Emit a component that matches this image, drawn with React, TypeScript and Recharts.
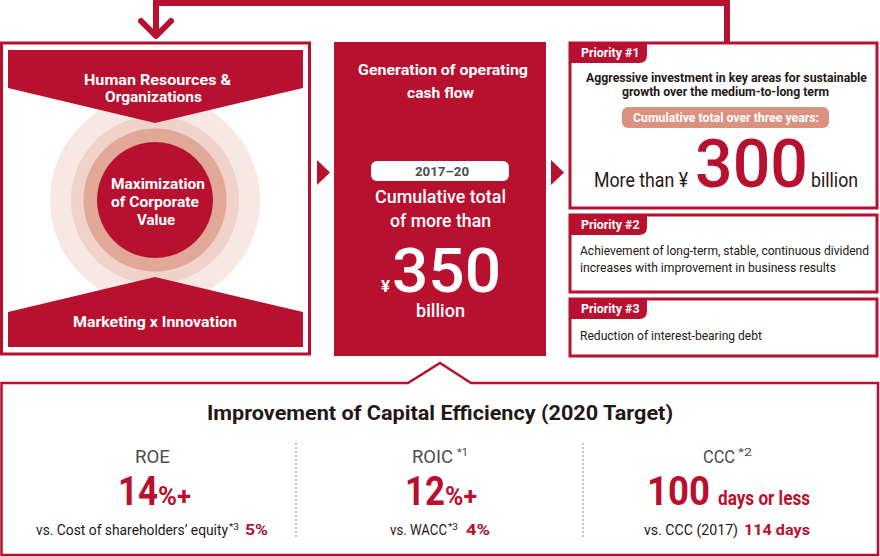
import { PieChart, Pie, Cell, Surface } from 'recharts';

const RED = '#b8102f';
const DARK = '#231815';
const GREY = '#4d4d4d';
const PINK = '#da9180';
const FONT = "Roboto, 'Liberation Sans', sans-serif";

// concentric rings behind "Maximization of Corporate Value"
const ringRadii = [105, 84, 71.5, 58];
const ringColors = ['#f7e8e4', '#efd3cb', '#e1a797', RED];

const leftTop = ['Human Resources &', 'Organizations'];
const leftCore = ['Maximization', 'of Corporate', 'Value'];
const leftBottom = 'Marketing x Innovation';

const cashTitle = ['Generation of operating', 'cash flow'];
const cashPeriod = '2017–20';
const cashLines = ['Cumulative total', 'of more than'];
const cashAmount = 350;

const priorityTitles = ['Priority #1', 'Priority #2', 'Priority #3'];
const priority1Lines = ['Aggressive investment in key areas for sustainable', 'growth over the medium-to-long term'];
const priority1Pill = 'Cumulative total over three years:';
const priority1Amount = 300;
const priority2Lines = ['Achievement of long-term, stable, continuous dividend', 'increases with improvement in business results'];
const priority3Lines = ['Reduction of interest-bearing debt'];

const efficiencyTitle = 'Improvement of Capital Efficiency (2020 Target)';
const kpiLabels = ['ROE', 'ROIC', 'CCC'];
const kpiLabelNotes = ['', '*1', '*2'];
const kpiTargets = [14, 12, 100];
const kpiUnits = ['%+', '%+', 'days or less'];
const kpiCompareText = ['vs. Cost of shareholders’ equity', 'vs. WACC', 'vs. CCC (2017)'];
const kpiCompareNotes = ['*3', '*3', ''];
const kpiCompareValues = ['5%', '4%', '114 days'];

// text squeezed to the width it has in the original (condensed face)
const T = ({ x, y, w, size, fill, weight = 400, children }: any) => (
  <text
    x={x}
    y={y}
    fontSize={size}
    fill={fill}
    fontWeight={weight}
    fontFamily={FONT}
    textLength={w}
    lengthAdjust="spacingAndGlyphs"
  >
    {children}
  </text>
);

const PriorityBox = ({ y, h, title }: any) => (
  <g>
    <rect x={570} y={y} width={307} height={h} fill="none" stroke={RED} strokeWidth={3} />
    <path d={`M570,${y} H647 V${y + 12} Q647,${y + 20} 639,${y + 20} H570 Z`} fill={RED} />
    <T x={581} y={y + 14} w={58.5} size={13.5} fill="#fff" weight={700}>{title}</T>
  </g>
);

const Overlay = () => {
  const labelX = [135, 412, 703];
  const labelW = [35, 41, 32];
  const noteX = [0, 457, 738];
  const targetX = [118, 405, 647];
  const targetW = [40, 40, 63];
  const unitX = [158, 445, 718];
  const unitW = [33, 32, 92];
  const cmpX = [36, 390, 644];
  const cmpW = [192, 57, 94];
  const cmpNoteX = [229, 448, 0];
  const cmpValX = [245, 466, 744];
  const cmpValW = [23, 24, 66];
  return (
    <g>
      {/* feedback arrow on top */}
      <path d="M156,36 V3 H727 V43" fill="none" stroke={RED} strokeWidth={6} />
      <path d="M141,21 L156,36 L171,21" fill="none" stroke={RED} strokeWidth={6} strokeLinecap="round" strokeLinejoin="round" />

      {/* left box */}
      <rect x={1.5} y={43} width={308} height={311} fill="none" stroke={RED} strokeWidth={3} />
      <path d="M8,50 H303 V88 L155,123 L8,88 Z" fill={RED} />
      <path d="M8,347 H303 V312 L155,277 L8,312 Z" fill={RED} />
      <T x={84} y={85} w={147} size={15.5} fill="#fff" weight={700}>{leftTop[0]}</T>
      <T x={105} y={102} w={97} size={15.5} fill="#fff" weight={700}>{leftTop[1]}</T>
      <T x={111} y={189} w={94} size={15.5} fill="#fff" weight={700}>{leftCore[0]}</T>
      <T x={111} y={207} w={88} size={15.5} fill="#fff" weight={700}>{leftCore[1]}</T>
      <T x={137} y={224.5} w={38} size={15.5} fill="#fff" weight={700}>{leftCore[2]}</T>
      <T x={73} y={327} w={164} size={15.5} fill="#fff" weight={700}>{leftBottom}</T>

      {/* arrows */}
      <path d="M317,160 L330,172.5 L317,185 Z" fill={RED} />
      <path d="M551,160 L564,172.5 L551,185 Z" fill={RED} />

      {/* middle column */}
      <rect x={334} y={42} width={212} height={314} fill={RED} />
      <T x={358} y={75} w={170} size={15.5} fill="#fff" weight={700}>{cashTitle[0]}</T>
      <T x={407} y={98} w={67} size={15.5} fill="#fff" weight={700}>{cashTitle[1]}</T>
      <rect x={371} y={161} width={138} height={20} rx={6} fill="#fff" />
      <T x={415} y={175.5} w={54} size={13} fill={GREY} weight={700}>{cashPeriod}</T>
      <T x={375} y={203} w={131} size={18} fill="#fff" weight={500}>{cashLines[0]}</T>
      <T x={390} y={227} w={101} size={18} fill="#fff" weight={500}>{cashLines[1]}</T>
      <T x={381} y={291.5} w={9} size={17} fill="#fff" weight={700}>¥</T>
      <T x={392} y={292} w={109} size={62} fill="#fff" weight={500}>{cashAmount}</T>
      <T x={416} y={317} w={49} size={18} fill="#fff" weight={500}>billion</T>

      {/* priorities */}
      <PriorityBox y={43} h={165} title={priorityTitles[0]} />
      <T x={586} y={82} w={281} size={13.5} fill={DARK} weight={700}>{priority1Lines[0]}</T>
      <T x={622} y={95.5} w={207} size={13.5} fill={DARK} weight={700}>{priority1Lines[1]}</T>
      <rect x={622} y={107} width={207} height={21} rx={6} fill={PINK} />
      <T x={633} y={122} w={186} size={13.5} fill="#fff" weight={700}>{priority1Pill}</T>
      <T x={594} y={187} w={94} size={20} fill={DARK}>More than ¥</T>
      <T x={695} y={187} w={113} size={66} fill={RED} weight={500}>{priority1Amount}</T>
      <T x={811} y={187} w={47} size={20} fill={DARK}>billion</T>

      <PriorityBox y={215} h={77} title={priorityTitles[1]} />
      <T x={580} y={255} w={289} size={13.5} fill={DARK}>{priority2Lines[0]}</T>
      <T x={580} y={272} w={256} size={13.5} fill={DARK}>{priority2Lines[1]}</T>
      <PriorityBox y={299} h={57} title={priorityTitles[2]} />
      <T x={580} y={340} w={182} size={13.5} fill={DARK}>{priority3Lines[0]}</T>

      {/* capital efficiency box */}
      <path d="M1.5,383 H408 L440,363 L471,383 H878 V555 H1.5 Z" fill="#fff" stroke={RED} strokeWidth={2.5} />
      <T x={207} y={420} w={466} size={21} fill={DARK} weight={700}>{efficiencyTitle}</T>
      {[296, 583].map((x) => (
        <line key={x} x1={x} x2={x} y1={443} y2={538} stroke="#888" strokeWidth={1} strokeDasharray="2 2" />
      ))}
      {kpiLabels.map((label, i) => (
        <g key={label}>
          <T x={labelX[i]} y={463} w={labelW[i]} size={18} fill={GREY}>{label}</T>
          {kpiLabelNotes[i] && (
            <T x={noteX[i]} y={456} w={i === 1 ? 11 : 14} size={11} fill={GREY}>{kpiLabelNotes[i]}</T>
          )}
          <T x={targetX[i]} y={505} w={targetW[i]} size={40} fill={RED} weight={700}>{kpiTargets[i]}</T>
          <T x={unitX[i]} y={505} w={unitW[i]} size={i === 2 ? 21 : 25} fill={RED} weight={700}>{kpiUnits[i]}</T>
          <T x={cmpX[i]} y={535} w={cmpW[i]} size={15} fill={DARK}>{kpiCompareText[i]}</T>
          {kpiCompareNotes[i] && (
            <T x={cmpNoteX[i]} y={530} w={10} size={9.5} fill={DARK}>{kpiCompareNotes[i]}</T>
          )}
          <T x={cmpValX[i]} y={535} w={cmpValW[i]} size={15.5} fill={RED} weight={700}>{kpiCompareValues[i]}</T>
        </g>
      ))}
    </g>
  );
};

export default function App() {
  return (
    <div style={{ position: 'absolute', left: 0, top: 0, width: 880, height: 557, background: '#fff' }}>
      <div style={{ position: 'absolute', left: 0, top: 0 }}>
        <PieChart width={880} height={557} margin={{ top: 0, right: 0, bottom: 0, left: 0 }}>
          {ringRadii.map((r, i) => (
            <Pie
              key={r}
              data={[{ name: 'ring' + i, value: 1 }]}
              dataKey="value"
              cx={155}
              cy={200}
              innerRadius={0}
              outerRadius={r}
              startAngle={90}
              endAngle={-270}
              stroke="none"
              isAnimationActive={false}
            >
              <Cell fill={ringColors[i]} />
            </Pie>
          ))}
        </PieChart>
      </div>
      <div style={{ position: 'absolute', left: 0, top: 0 }}>
        <Surface width={880} height={557}>
          <Overlay />
        </Surface>
      </div>
    </div>
  );
}
